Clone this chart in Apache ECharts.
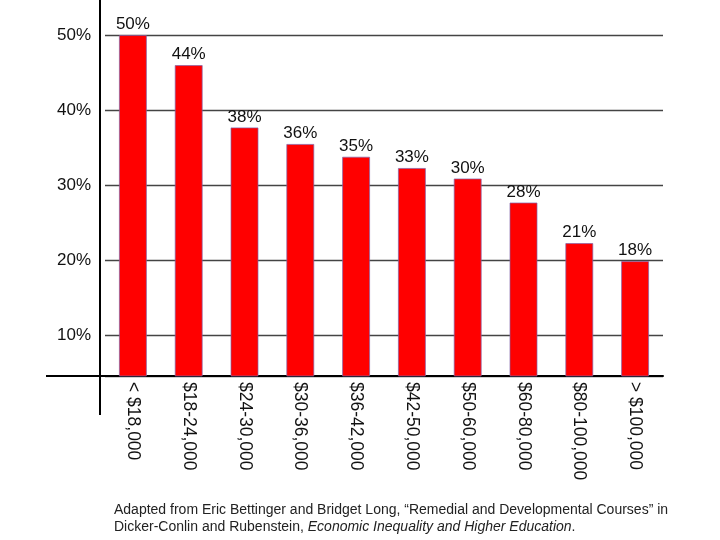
<!DOCTYPE html>
<html>
<head>
<meta charset="utf-8">
<script src="https://cdn.jsdelivr.net/npm/echarts@6/dist/echarts.min.js"></script>
<style>
html,body{margin:0;padding:0;background:#fff;}
#chart{width:720px;height:540px;}
</style>
</head>
<body>
<div id="chart"></div>
<script>
var categories = ['< $18,000', '$18-24,000', '$24-30,000', '$30-36,000', '$36-42,000', '$42-50,000', '$50-60,000', '$60-80,000', '$80-100,000', '> $100,000'];
var barValues = [50, 46, 37.7, 35.5, 33.8, 32.3, 30.9, 27.7, 22.3, 19.9];
var valueLabels = ['50', '44', '38', '36', '35', '33', '30', '28', '21', '18'];
var yTickValues = [10, 20, 30, 40, 50];

var FONT = '"Liberation Sans", Arial, Helvetica, sans-serif';
var chart = echarts.init(document.getElementById('chart'), null, {renderer: 'canvas'});

chart.setOption({
  animation: false,
  backgroundColor: '#ffffff',
  textStyle: {fontFamily: FONT},
  title: {
    left: 109,
    top: 497,
    text: 'Adapted from Eric Bettinger and Bridget Long, \u201cRemedial and Developmental Courses\u201d in\nDicker-Conlin and Rubenstein, {i|Economic Inequality and Higher Education}.',
    textStyle: {
      fontFamily: FONT, fontSize: 14, fontWeight: 'normal', color: '#222', lineHeight: 16.5,
      rich: {i: {fontFamily: FONT, fontSize: 14, fontStyle: 'italic', color: '#222', lineHeight: 16.5}}
    }
  },
  grid: {left: 105, width: 558, top: 35, height: 341, containLabel: false},
  xAxis: {
    type: 'category',
    data: categories,
    axisLine: {show: true, lineStyle: {color: '#000', width: 2}},
    axisTick: {show: false},
    axisLabel: {interval: 0, rotate: -90, margin: 6, fontSize: 17.5, color: '#111', fontFamily: FONT},
    splitLine: {show: false}
  },
  yAxis: {
    type: 'value',
    min: 4.6,
    max: 50,
    splitNumber: 5,
    offset: 5,
    axisLine: {show: true, lineStyle: {color: '#000', width: 2}},
    axisTick: {show: false},
    axisLabel: {
      showMinLabel: false, margin: 9, fontSize: 17, color: '#111', fontFamily: FONT,
      formatter: function (v) { return yTickValues.indexOf(v) >= 0 ? v + '%' : ''; }
    },
    splitLine: {show: true, lineStyle: {color: '#444', width: 1.3}}
  },
  series: [{
    type: 'bar',
    data: barValues,
    barWidth: 28,
    itemStyle: {color: '#ff0000', borderColor: 'rgba(130,100,170,0.7)', borderWidth: 1},
    label: {
      show: true, position: 'top', distance: 2, fontSize: 17, color: '#111', fontFamily: FONT,
      formatter: function (p) { return valueLabels[p.dataIndex] + '%'; }
    }
  }],
  graphic: [
    {type: 'line', shape: {x1: 100, y1: 0, x2: 100, y2: 415}, style: {stroke: '#000', lineWidth: 2}, z: 100},
    {type: 'line', shape: {x1: 46, y1: 376, x2: 105, y2: 376}, style: {stroke: '#000', lineWidth: 2}, z: 100}
  ]
});
</script>
</body>
</html>
